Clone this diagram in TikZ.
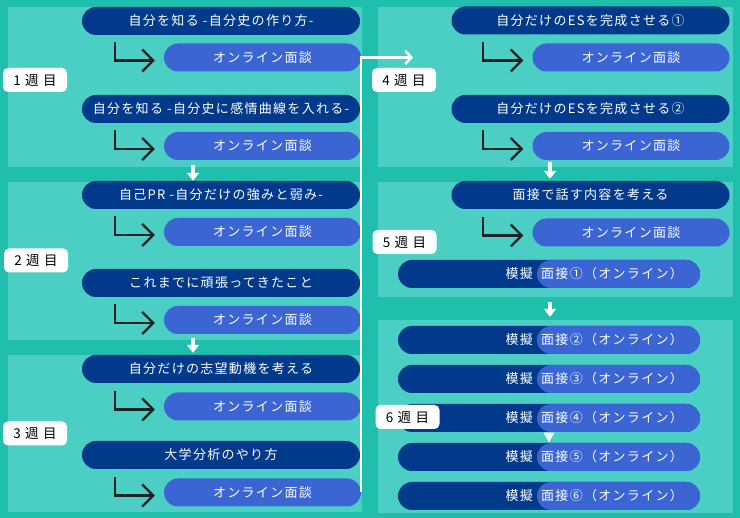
\documentclass[tikz,border=0pt]{standalone}
\usepackage{fontspec}
\newfontfamily\jp[LetterSpace=10]{Noto Sans CJK JP}
\newfontfamily\jpl[LetterSpace=32]{Noto Sans CJK JP}
\usetikzlibrary{arrows.meta,calc}
\definecolor{bgc}{HTML}{1FBEAD}
\definecolor{panelc}{HTML}{4BCFC5}
\definecolor{navy}{HTML}{013A8B}
\definecolor{lblue}{HTML}{3A65D3}
\definecolor{arrowc}{HTML}{222222}
\tikzset{
 panel/.style={fill=panelc, draw=none, inner sep=0pt, minimum width=354pt},
 hdr/.style={fill=navy, rounded corners=14pt, minimum width=278pt, minimum height=28pt, inner sep=0pt, text=white, font=\jp\fontsize{13}{15}\selectfont},
 lite/.style={hdr, fill=lblue, minimum width=197pt},
 mock/.style={hdr, minimum width=302pt},
 mockl/.style={hdr, fill=lblue, minimum width=163pt},
 mtxt/.style={text=white, inner sep=0pt, font=\jp\fontsize{13}{15}\selectfont},
 bent/.style={draw=arrowc, line width=2.2pt, -{Straight Barb[length=11pt,width=22pt]}},
 downarr/.style={draw=white, line width=4pt, -{Triangle[length=8pt,width=12pt]}},
 wk/.style={fill=white, rounded corners=5pt, minimum width=64pt, minimum height=24pt, inner sep=0pt, font=\jpl\fontsize{13.5}{15}\selectfont, text=black},
}
\begin{document}
\begin{tikzpicture}[x=1pt,y=-1pt]
\useasboundingbox (0,0) rectangle (740,518);
\fill[bgc] (0,0) rectangle (740,518);
% panels
\node[panel, minimum height=160pt] (p1) at (185,87) {};
\node[panel, minimum height=158pt] (p2) at (185,261) {};
\node[panel, minimum height=157pt] (p3) at (185,433.5) {};
\node[panel, minimum width=355pt, minimum height=160pt] (p4) at (555.5,87) {};
\node[panel, minimum width=355pt, minimum height=115pt] (p5) at (555.5,239.5) {};
\node[panel, minimum width=355pt, minimum height=193pt] (p6) at (555.5,416.5) {};
% left column
\node[hdr] (h1a) at (221,21) {自分を知る -自分史の作り方-};
\node[lite] (l1a) at (262.5,57.5) {オンライン面談};
\node[hdr] (h1b) at (221,109) {自分を知る -自分史に感情曲線を入れる-};
\node[lite] (l1b) at (262.5,146) {オンライン面談};
\node[hdr] (h2a) at (221,195) {自己PR -自分だけの強みと弱み-};
\node[lite] (l2a) at (262.5,232) {オンライン面談};
\node[hdr] (h2b) at (221,283) {これまでに頑張ってきたこと};
\node[lite] (l2b) at (262.5,320) {オンライン面談};
\node[hdr] (h3a) at (221,369) {自分だけの志望動機を考える};
\node[lite] (l3a) at (262.5,406.5) {オンライン面談};
\node[hdr] (h3b) at (221,455) {大学分析のやり方};
\node[lite] (l3b) at (262.5,492.5) {オンライン面談};
% right column
\node[hdr] (h4a) at (590.5,20.5) {自分だけのESを完成させる①};
\node[lite] (l4a) at (631,57.5) {オンライン面談};
\node[hdr] (h4b) at (590.5,109) {自分だけのESを完成させる②};
\node[lite] (l4b) at (631,146) {オンライン面談};
\node[hdr] (h5a) at (590.5,195) {面接で話す内容を考える};
\node[lite] (l5a) at (631,232.5) {オンライン面談};
% mock interviews
\foreach \i/\y/\c in {1/274/①,2/340/②,3/379/③,4/418/④,5/457/⑤,6/496/⑥}{
  \node[mock] (m\i) at (549,\y) {};
  \node[mockl] (m\i l) at (618.5,\y) {};
  \node[mtxt, anchor=east] (m\i a) at (533,\y) {模擬};
  \node[mtxt, anchor=west] (m\i b) at (541,\y) {面接\c（オンライン）};
}
% bent arrows
\foreach \n in {l1a,l1b,l2a,l2b,l3a,l3b,l4a,l4b,l5a}{
  \coordinate (\n s) at ($(\n.west)+(-49,-15.5)$);
  \coordinate (\n t) at ($(\n.west)+(-9,3)$);
  \draw[bent] (\n s) |- (\n t);
}
% down arrows between panels
\draw[downarr] ($(p1.south)+(8,-2)$) -- ($(p2.north)+(8,-1)$);
\draw[downarr] ($(p2.south)+(8,-2)$) -- ($(p3.north)+(8,-2)$);
\draw[downarr] ($(p4.south)+(-5.5,-5)$) -- ($(p5.north)+(-5.5,-3)$);
\draw[downarr] ($(p5.south)+(-5.5,5)$) -- ($(p6.north)+(-5.5,-3)$);
\fill[white] ($(m4.south)+(-5.5,0.5)$) -- ($(m4.south)+(5.5,0.5)$) -- ($(m4.south)+(0,10)$) -- cycle;
% white connector week3 -> week4
\coordinate (c4) at (413,57.5);
\draw[white, line width=2.5pt, -{Straight Barb[length=6pt,width=13pt]}] (l3b.east) -- (l1a.east) -- (c4);
% week labels
\node[wk] (w1) at (35,80) {1週目};
\node[wk] (w2) at (36,260.5) {2週目};
\node[wk] (w3) at (35,433.5) {3週目};
\node[wk] (w4) at (404,80) {4週目};
\node[wk] (w5) at (404.5,242) {5週目};
\node[wk] (w6) at (407.5,417) {6週目};
\end{tikzpicture}
\end{document}
